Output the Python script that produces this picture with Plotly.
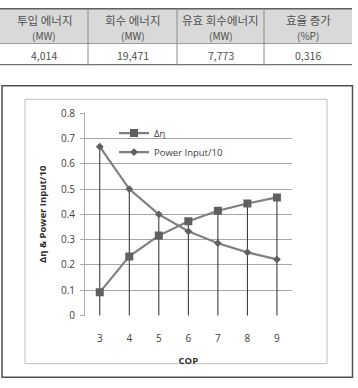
import plotly.graph_objects as go

# ---- data ----
table_headers = [["투입 에너지", "(MW)"], ["회수 에너지", "(MW)"], ["유효 회수에너지", "(MW)"], ["효율 증가", "(%P)"]]
table_values = ["4,014", "19,471", "7,773", "0,316"]

cop = [3, 4, 5, 6, 7, 8, 9]
delta_eta = [0.092, 0.234, 0.316, 0.373, 0.414, 0.443, 0.467]
power_input_10 = [0.667, 0.500, 0.400, 0.333, 0.286, 0.250, 0.222]

W, H = 358, 388
def px(x):
    return x / W
def py(y):
    return 1 - y / H

fig = go.Figure()

# drop lines
dx, dy = [], []
for c, a, b in zip(cop, delta_eta, power_input_10):
    dx += [c, c, None]
    dy += [0, max(a, b), None]
fig.add_trace(go.Scatter(x=dx, y=dy, mode="lines", line=dict(color="#2a2a2a", width=1),
                         showlegend=False, hoverinfo="skip"))

fig.add_trace(go.Scatter(x=cop, y=delta_eta, mode="lines+markers", name="Δη",
                         line=dict(color="#808080", width=2.2),
                         marker=dict(symbol="square", size=8, color="#606060")))
fig.add_trace(go.Scatter(x=cop, y=power_input_10, mode="lines+markers", name="Power Input/10",
                         line=dict(color="#808080", width=2.2),
                         marker=dict(symbol="diamond", size=6, color="#606060")))

font = "Open Sans, DejaVu Sans, sans-serif"
fig.update_layout(
    width=W, height=H,
    margin=dict(l=0, r=0, t=0, b=0),
    paper_bgcolor="white", plot_bgcolor="white",
    showlegend=True,
    legend=dict(x=px(114), y=py(115), xanchor="left", yanchor="top",
                bgcolor="rgba(0,0,0,0)", font=dict(family=font, size=9.5, color="#404040"),
                itemwidth=30, tracegroupgap=0),
    xaxis=dict(domain=[px(85), px(291.7)], range=[2.5, 9.5], tickvals=cop,
               ticktext=[str(c) for c in cop], showgrid=False, zeroline=False,
               showline=False, ticks="", ticklabelstandoff=15,
               tickfont=dict(family=font, size=10, color="#404040"),
               title=dict(text="<b>COP</b>", font=dict(family=font, size=9.5, color="#303030"), standoff=13)),
    yaxis=dict(domain=[py(320), py(109.3)], range=[0, 0.8], dtick=0.1, tickformat="~g",
               showgrid=True, gridcolor="#a6a6a6", gridwidth=1, zeroline=False,
               showline=True, linecolor="#b0b0b0", ticks="outside", ticklen=4, tickcolor="#a6a6a6",
               ticklabelstandoff=3,
               tickfont=dict(family=font, size=10, color="#404040"),
               title=dict(text="<b>Δη & Power Input/10</b>", font=dict(family=font, size=9.5, color="#303030"), standoff=12)),
)

shapes = []
# outer chart frame
shapes.append(dict(type="rect", xref="paper", yref="paper", x0=px(2), x1=px(352.5), y0=py(384), y1=py(81),
                   line=dict(color="#505050", width=1.5)))
# inner chart frame
shapes.append(dict(type="rect", xref="paper", yref="paper", x0=px(25), x1=px(327), y0=py(370), y1=py(95),
                   line=dict(color="#c0c0c0", width=1)))
# table header background
shapes.append(dict(type="rect", xref="paper", yref="paper", x0=px(0), x1=px(352), y0=py(37), y1=py(0),
                   fillcolor="#d9d9d9", line=dict(width=0), layer="below"))
# table lines
shapes.append(dict(type="line", xref="paper", yref="paper", x0=px(0), x1=px(352), y0=py(0.8), y1=py(0.8),
                   line=dict(color="#606060", width=1.5)))
shapes.append(dict(type="line", xref="paper", yref="paper", x0=px(0), x1=px(352), y0=py(37), y1=py(37),
                   line=dict(color="#9a9a9a", width=1)))
shapes.append(dict(type="line", xref="paper", yref="paper", x0=px(0), x1=px(352), y0=py(59), y1=py(59),
                   line=dict(color="#707070", width=1.2)))
col_edges = [0, 88, 177, 264, 352]
for xe in col_edges[1:-1]:
    shapes.append(dict(type="line", xref="paper", yref="paper", x0=px(xe), x1=px(xe), y0=py(59), y1=py(1),
                       line=dict(color="#8a8a8a", width=1)))
fig.update_layout(shapes=shapes)

tfont = "Noto Sans CJK KR, sans-serif"
annotations = []
for i, (hdr, val) in enumerate(zip(table_headers, table_values)):
    cx = (col_edges[i] + col_edges[i + 1]) / 2
    annotations.append(dict(x=px(cx), y=py(13), xref="paper", yref="paper", text=hdr[0], showarrow=False,
                            font=dict(family=tfont, size=11.5, color="#505050"), xanchor="center", yanchor="middle"))
    annotations.append(dict(x=px(cx), y=py(28.5), xref="paper", yref="paper", text=hdr[1], showarrow=False,
                            font=dict(family=tfont, size=10, color="#505050"), xanchor="center", yanchor="middle"))
    annotations.append(dict(x=px(cx), y=py(49), xref="paper", yref="paper", text=val, showarrow=False,
                            font=dict(family=tfont, size=10.5, color="#505050"), xanchor="center", yanchor="middle"))
fig.update_layout(annotations=annotations)

fig.write_html("out.html")
